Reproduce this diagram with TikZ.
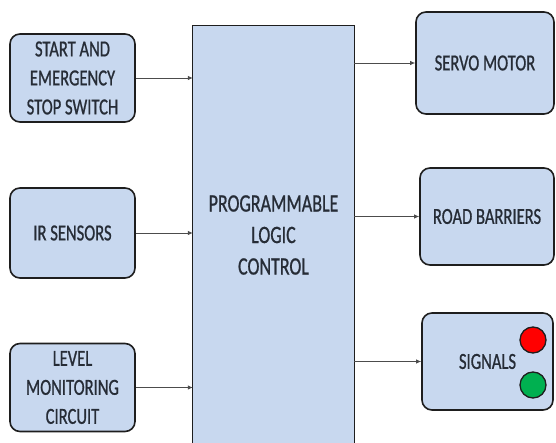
\documentclass[tikz,border=0pt]{standalone}
\usepackage{fontspec}
\setmainfont{Carlito}[FakeStretch=0.72, FakeBold=0.8]
\usepackage{xcolor}
\usepackage{tikz}
\usetikzlibrary{positioning, calc, arrows.meta}

\definecolor{boxfill}{HTML}{C8D8EF}
\definecolor{boxline}{HTML}{1E1E1E}
\definecolor{txt}{HTML}{262C36}
\definecolor{sigred}{HTML}{FF0000}
\definecolor{siggreen}{HTML}{00B050}

\tikzset{
    unit/.style={draw=boxline, line width=1.6pt, fill=boxfill, rounded corners=10pt,
        align=center, text=txt, inner sep=0pt},
    inbox/.style={unit, minimum width=125pt, minimum height=88pt,
        font=\fontsize{23}{29}\selectfont},
    outbox/.style={unit, font=\fontsize{23}{30}\selectfont},
    link/.style={draw=black!70, line width=0.8pt, -{Latex[length=5pt,width=4.5pt]}},
    lamp/.style={circle, draw=boxline, line width=1.3pt, minimum size=26pt, inner sep=0pt}
}

\begin{document}
\begin{tikzpicture}[x=1pt, y=-1pt]
    \useasboundingbox (0,0) rectangle (556,443);

    % Controller
    \node[fill=boxfill, minimum width=161pt, minimum height=418pt, inner sep=0pt,
        align=center, text=txt, font=\fontsize{25}{31.5}\selectfont]
        (plc) at (273.5,235) {PROGRAMMABLE\\LOGIC\\CONTROL};
    \draw[draw=boxline, line width=1.3pt]
        (plc.south west) -- (plc.north west) -- (plc.north east) -- (plc.south east);

    % Inputs
    \node[inbox] (start) at (72.5,78) {START AND\\EMERGENCY\\STOP SWITCH};
    \node[inbox, minimum height=90pt] (ir) at (72.5,233) {IR SENSORS};
    \node[inbox] (level) at (72.5,387.5) {LEVEL\\MONITORING\\CIRCUIT};

    % Outputs
    \node[outbox, minimum width=138pt, minimum height=102pt] (servo) at (485,63) {SERVO MOTOR};
    \node[outbox, minimum width=134pt, minimum height=97pt] (road) at (487,216.5) {ROAD BARRIERS};
    \node[outbox, minimum width=131pt, minimum height=97pt] (signal) at (487.5,361.5) {SIGNALS};

    \node[lamp, fill=sigred] (red) at (533,340) {};
    \node[lamp, fill=siggreen] (green) at (533,385) {};

    % Connections
    \foreach \src in {start, ir, level} {
        \draw[link] (\src.east) -- (\src.east -| plc.west);
    }
    \foreach \dst in {servo, road, signal} {
        \draw[link] (\dst.west -| plc.east) -- (\dst.west);
    }
\end{tikzpicture}
\end{document}
